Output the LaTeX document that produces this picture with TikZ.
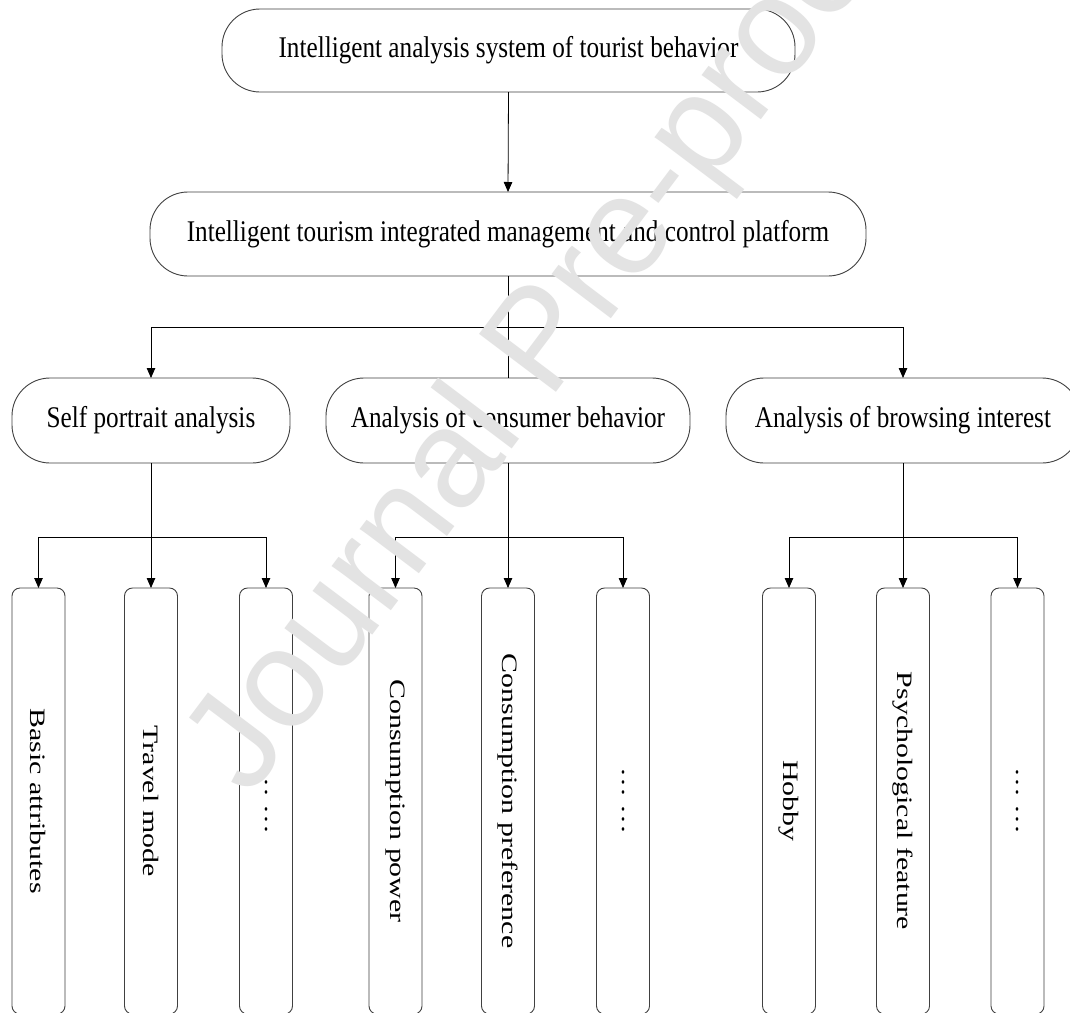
\documentclass[tikz,border=0pt]{standalone}
\usepackage{fontspec}
\setmainfont{Liberation Serif}
\newfontfamily\wmfont{Liberation Sans}
\usetikzlibrary{arrows.meta}

% horizontal labels are set narrow, vertical labels are set long
\newcommand{\hlab}[1]{\scalebox{0.84}[1]{#1}}
\newcommand{\vlab}[1]{\scalebox{1.36}[1]{#1}}

\begin{document}
\begin{tikzpicture}[x=1pt, y=-1pt,
  every node/.style={inner sep=0pt, outer sep=0pt},
  pill/.style={draw=black!75, line width=0.9pt, rounded corners=38pt,
               font=\fontsize{30}{34}\selectfont},
  bar/.style={draw=black!75, line width=0.9pt, rounded corners=8pt,
              minimum width=53pt, minimum height=426pt},
  vlabel/.style={font=\fontsize{22}{26}\selectfont, rotate=-90},
  link/.style={draw=black, line width=0.8pt},
  arr/.style={link, -{Triangle[length=10pt, width=8.5pt]}},
  wmtext/.style={text=black!11, font=\wmfont\fontsize{140}{140}\selectfont}
]
\clip (0,0) rectangle (1070,1012);
\fill[white] (0,0) rectangle (1070,1012);

% top levels
\node[pill, minimum width=573pt, minimum height=83pt] (sys) at (508.5,50.5)
  {\hlab{Intelligent analysis system of tourist behavior}};
\node[pill, minimum width=716pt, minimum height=84pt] (plat) at (508,234)
  {\hlab{Intelligent tourism integrated management and control platform}};

% analysis modules
\node[pill, minimum width=278pt, minimum height=85pt] (self) at (151,420.5)
  {\hlab{Self portrait analysis}};
\node[pill, minimum width=364pt, minimum height=85pt] (cons) at (508,420.5)
  {\hlab{Analysis of consumer behavior}};
\node[pill, minimum width=354pt, minimum height=85pt] (brow) at (903,420.5)
  {\hlab{Analysis of browsing interest}};

% leaf items
\node[bar] (s1) at (38.5,801) {};
\node[vlabel] at (s1) {\vlab{Basic attributes}};
\node[bar] (s2) at (151,801) {};
\node[vlabel] at (s2) {\vlab{Travel mode}};
\node[bar] (s3) at (266,801) {};
\node[vlabel] at (s3) {\vlab{\dots\ \dots}};

\node[bar] (c1) at (395.5,801) {};
\node[vlabel] at (c1) {\vlab{Consumption power}};
\node[bar] (c2) at (508,801) {};
\node[vlabel] at (c2) {\vlab{Consumption preference}};
\node[bar] (c3) at (623,801) {};
\node[vlabel] at (c3) {\vlab{\dots\ \dots}};

\node[bar] (b1) at (789,801) {};
\node[vlabel] at (b1) {\vlab{Hobby}};
\node[bar] (b2) at (903,801) {};
\node[vlabel] at (b2) {\vlab{Psychological feature}};
\node[bar] (b3) at (1017.5,801) {};
\node[vlabel] at (b3) {\vlab{\dots\ \dots}};

% connectors
\draw[arr] (sys.south) -- (plat.north);
\coordinate (jp) at (508,327);
\draw[link] (plat.south) -- (cons.north);
\draw[arr] (jp) -| (self.north);
\draw[arr] (jp) -| (brow.north);

\coordinate (js) at (151,537);
\draw[arr] (self.south) -- (s2.north);
\draw[arr] (js) -| (s1.north);
\draw[arr] (js) -| (s3.north);

\coordinate (jc) at (508,537);
\draw[arr] (cons.south) -- (c2.north);
\draw[arr] (jc) -| (c1.north);
\draw[arr] (jc) -| (c3.north);

\coordinate (jb) at (903,537);
\draw[arr] (brow.south) -- (b2.north);
\draw[arr] (jb) -| (b1.north);
\draw[arr] (jb) -| (b3.north);

% watermark
\node[wmtext, rotate=53] (wm) at (546,345) {Journal Pre-proof};
\end{tikzpicture}
\end{document}
